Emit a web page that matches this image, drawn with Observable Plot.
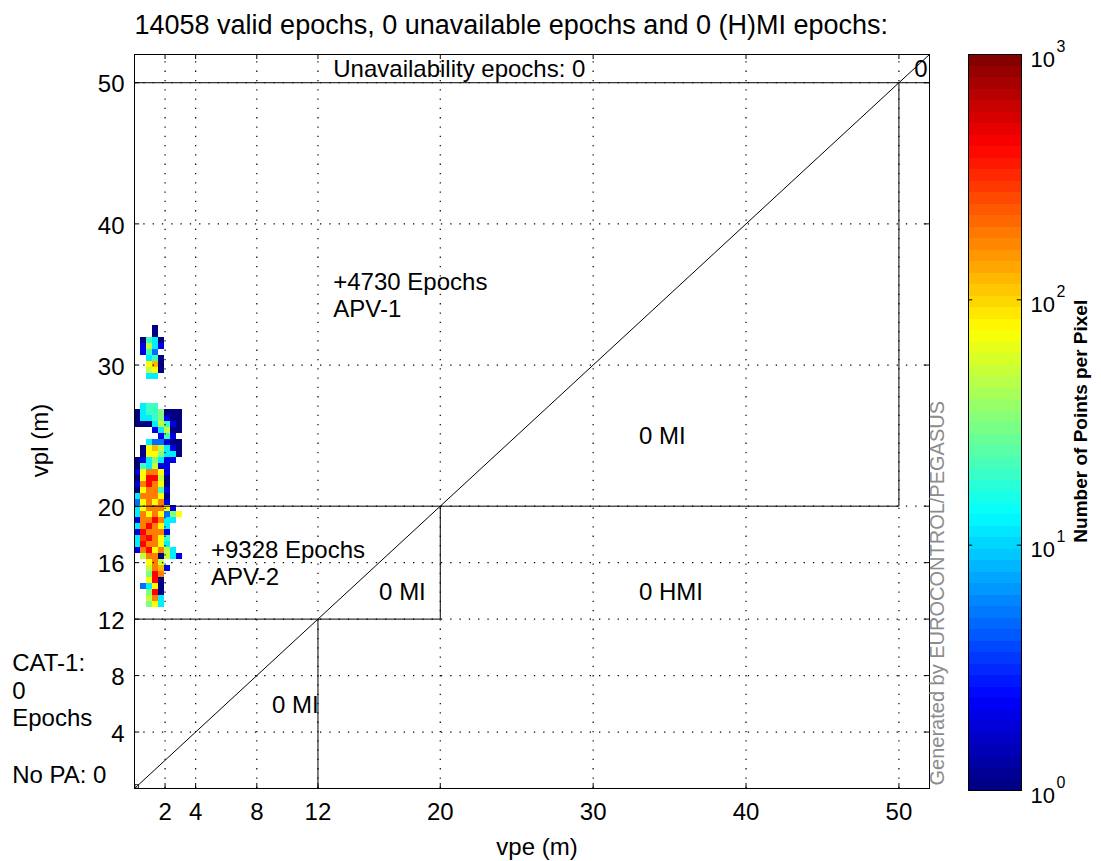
<!DOCTYPE html>
<html><head><meta charset="utf-8">
<script src="https://cdn.jsdelivr.net/npm/d3@7"></script>
<script src="https://cdn.jsdelivr.net/npm/@observablehq/plot@0.6"></script>
<style>
body{margin:0;background:#fff;}
#wrap{position:relative;width:1101px;height:861px;overflow:hidden;}
#wrap svg{position:absolute;top:0;}
</style></head><body><div id="wrap"></div>
<script>
// ---------- data ----------
const titleText = "14058 valid epochs, 0 unavailable epochs and 0 (H)MI epochs:";
const xTicks = [2, 4, 8, 12, 20, 30, 40, 50];
const yTicks = [4, 8, 12, 16, 20, 30, 40, 50];
// heat-map bin edges (m)
const vpeEdges = [0, 0.39, 0.78, 1.18, 1.57, 1.96, 2.35, 2.75, 3.14];
const vplEdges = [32.81, 32.38, 31.96, 31.53, 31.11, 30.68, 30.26, 29.83, 29.40, 28.98,
  28.55, 28.13, 27.70, 27.27, 26.85, 26.42, 26.00, 25.57, 25.15, 24.72,
  24.29, 23.87, 23.44, 23.02, 22.59, 22.16, 21.74, 21.31, 20.89, 20.46,
  20.04, 19.61, 19.18, 18.76, 18.33, 17.91, 17.48, 17.06, 16.63, 16.20,
  15.78, 15.35, 14.93, 14.50, 14.08, 13.65, 13.23, 12.80];
// points per pixel, one row per vpl bin (top to bottom), one column per vpe bin
const counts = [
  [0, 0, 0, 1, 0, 0, 0, 0],
  [0, 0, 0, 1, 0, 0, 0, 0],
  [0, 1, 20, 12, 1, 0, 0, 0],
  [0, 2, 50, 12, 2, 0, 0, 0],
  [0, 2, 20, 5, 0, 0, 0, 0],
  [0, 0, 12, 20, 1, 0, 0, 0],
  [0, 0, 75, 120, 1, 0, 0, 0],
  [0, 0, 50, 75, 1, 0, 0, 0],
  [0, 0, 12, 12, 0, 0, 0, 0],
  [0, 0, 0, 0, 0, 0, 0, 0],
  [0, 0, 0, 0, 0, 0, 0, 0],
  [0, 0, 0, 0, 0, 0, 0, 0],
  [0, 0, 0, 0, 0, 0, 0, 0],
  [0, 12, 20, 20, 0, 0, 0, 0],
  [1, 12, 20, 20, 32, 1, 1, 1],
  [1, 12, 12, 20, 32, 2, 1, 1],
  [1, 1, 1, 12, 50, 20, 2, 1],
  [0, 0, 0, 2, 12, 50, 1, 1],
  [0, 0, 0, 0, 2, 20, 2, 0],
  [0, 0, 12, 5, 5, 2, 1, 1],
  [0, 1, 75, 120, 50, 12, 2, 1],
  [0, 1, 75, 75, 32, 12, 12, 1],
  [1, 2, 12, 32, 12, 2, 2, 0],
  [1, 20, 12, 50, 2, 2, 0, 0],
  [2, 75, 180, 180, 75, 2, 0, 0],
  [1, 75, 420, 420, 50, 1, 0, 0],
  [2, 180, 420, 180, 75, 1, 0, 0],
  [1, 75, 180, 180, 20, 2, 0, 0],
  [12, 180, 180, 180, 75, 1, 0, 0],
  [5, 75, 180, 75, 180, 2, 0, 0],
  [12, 75, 180, 180, 180, 75, 2, 0],
  [12, 180, 75, 180, 75, 5, 32, 75],
  [2, 180, 180, 420, 180, 12, 12, 0],
  [12, 180, 420, 180, 75, 12, 0, 0],
  [2, 420, 180, 180, 180, 2, 0, 0],
  [12, 280, 420, 180, 75, 20, 0, 0],
  [12, 420, 180, 180, 75, 12, 0, 0],
  [2, 180, 420, 75, 180, 50, 12, 0],
  [0, 50, 180, 180, 1, 50, 12, 2],
  [0, 0, 75, 180, 50, 0, 0, 0],
  [0, 0, 50, 180, 120, 2, 0, 0],
  [0, 0, 32, 420, 180, 0, 0, 0],
  [0, 0, 75, 420, 1, 0, 0, 0],
  [0, 5, 12, 75, 1, 0, 0, 0],
  [0, 0, 32, 420, 1, 0, 0, 0],
  [0, 0, 50, 180, 12, 0, 0, 0],
  [0, 0, 32, 75, 12, 0, 0, 0]
];
// region boundaries of the Stanford plot
const segX1 = [0, 0, 50, 0, 20, 0, 12];
const segY1 = [0, 50, 20, 20, 12, 12, 0];
const segX2 = [52, 52, 50, 50, 20, 20, 12];
const segY2 = [52, 50, 50, 20, 20, 12, 12];
// annotations (left-aligned, centred vertically)
const noteText = ["Unavailability epochs: 0", "0", "+4730 Epochs\nAPV-1", "0 MI",
  "+9328 Epochs\nAPV-2", "0 MI", "0 HMI", "0 MI", "CAT-1:\n0\nEpochs", "No PA: 0"];
const noteX = [13, 51, 13, 33, 5, 16, 33, 9, -8, -8];
const noteY = [51, 51, 35, 25, 16, 14, 14, 6, 7, 1];
const colorTicks = [1, 10, 100, 1000];
const colorExp = ["0", "1", "2", "3"];

// ---------- styling ----------
const FONT = "Liberation Sans, Arial, sans-serif";
const jet = t => {
  const c = v => Math.round(255 * Math.max(0, Math.min(1, v)));
  return `rgb(${c(1.5 - Math.abs(4 * t - 3))},${c(1.5 - Math.abs(4 * t - 2))},${c(1.5 - Math.abs(4 * t - 1))})`;
};
const colorScale = {type: "log", domain: [1, 1000], interpolate: jet};

const cells = [];
counts.forEach((row, k) => row.forEach((n, c) => {
  if (n > 0) cells.push({x1: vpeEdges[c], x2: vpeEdges[c + 1], y1: vplEdges[k + 1], y2: vplEdges[k], n});
}));
const segs = segX1.map((_, i) => ({x1: segX1[i], y1: segY1[i], x2: segX2[i], y2: segY2[i]}));
const notes = noteText.map((t, i) => ({t, x: noteX[i], y: noteY[i]}));

const W = 1101, H = 861;
const main = Plot.plot({
  width: W, height: H,
  marginLeft: 134, marginRight: 172, marginTop: 54, marginBottom: 73,
  style: {fontFamily: FONT, background: "white", overflow: "visible"},
  x: {domain: [0, 52], axis: null},
  y: {domain: [0, 52], axis: null},
  color: colorScale,
  marks: [
    Plot.rect(cells, {x1: "x1", x2: "x2", y1: "y1", y2: "y2", fill: "n", shapeRendering: "crispEdges"}),
    Plot.ruleX(xTicks, {x: d => d, y1: 0, y2: 52, stroke: "#000", strokeWidth: 1.2, strokeDasharray: "1.3,8"}),
    Plot.ruleY(yTicks, {y: d => d, x1: 0, x2: 52, stroke: "#000", strokeWidth: 1.2, strokeDasharray: "1.3,8"}),
    Plot.link(segs, {x1: "x1", y1: "y1", x2: "x2", y2: "y2", stroke: "#000", strokeWidth: 1}),
    // inward tick marks
    Plot.ruleX(xTicks, {x: d => d, y1: 0, y2: 0.36, stroke: "#000"}),
    Plot.ruleX(xTicks, {x: d => d, y1: 52, y2: 51.64, stroke: "#000"}),
    Plot.ruleY(yTicks, {y: d => d, x1: 0, x2: 0.34, stroke: "#000"}),
    Plot.ruleY(yTicks, {y: d => d, x1: 52, x2: 51.66, stroke: "#000"}),
    Plot.dot([0], {x: 0.15, y: 0.15, symbol: "square", r: 2, stroke: "#000", strokeWidth: 0.8}),
    Plot.frame({stroke: "#000", strokeWidth: 1}),
    // tick labels
    Plot.text(xTicks, {x: d => d, text: d => String(d), frameAnchor: "bottom", lineAnchor: "middle", dy: 24, fontSize: 24, fill: "#000"}),
    Plot.text(yTicks, {y: d => d, text: d => String(d), frameAnchor: "left", lineAnchor: "middle", dx: -10, dy: 2, textAnchor: "end", fontSize: 24, fill: "#000"}),
    // annotations
    Plot.text(notes, {x: "x", y: "y", text: "t", textAnchor: "start", lineAnchor: "middle", fontSize: 24, lineHeight: 1.15, fill: "#000"}),
    // title and axis labels
    Plot.text([titleText], {x: 0, frameAnchor: "top", lineAnchor: "middle", dy: -29, textAnchor: "start", fontSize: 27, fill: "#000"}),
    Plot.text(["vpe (m)"], {frameAnchor: "bottom", lineAnchor: "middle", textAnchor: "middle", dx: 5, dy: 59, fontSize: 24, fill: "#000"}),
    Plot.text(["vpl (m)"], {frameAnchor: "left", lineAnchor: "middle", textAnchor: "middle", dx: -94, dy: 19, rotate: -90, fontSize: 24, fill: "#000"}),
    Plot.text(["Generated by EUROCONTROL/PEGASUS"], {frameAnchor: "bottom-right", dx: 14, dy: -3, rotate: -90, textAnchor: "start", fontSize: 20, fill: "#8c8c8c"})
  ]
});

const bands = d3.range(64).map(i => ({lo: 10 ** (3 * i / 64), hi: 10 ** (3 * (i + 1) / 64)}));
const cbW = 163;
const cbar = Plot.plot({
  width: cbW, height: H,
  marginLeft: 30, marginRight: cbW - 30 - 53, marginTop: 54, marginBottom: H - 790,
  style: {fontFamily: FONT, background: "transparent", overflow: "visible"},
  x: {domain: [0, 1], axis: null},
  y: {type: "log", domain: [1, 1000], axis: null},
  color: colorScale,
  marks: [
    Plot.rect(bands, {x1: 0, x2: 1, y1: "lo", y2: "hi", fill: d => Math.sqrt(d.lo * d.hi), shapeRendering: "crispEdges"}),
    Plot.ruleY(colorTicks, {y: d => d, x1: 0, x2: 0.08, stroke: "#000"}),
    Plot.ruleY(colorTicks, {y: d => d, x1: 1, x2: 0.92, stroke: "#000"}),
    Plot.frame({stroke: "#000"}),
    Plot.text(colorTicks, {y: d => d, x: 1, text: () => "10", dx: 9, dy: 5, textAnchor: "start", lineAnchor: "middle", fontSize: 22, fill: "#000"}),
    Plot.text(colorTicks, {y: d => d, x: 1, text: (d, i) => colorExp[i], dx: 35, dy: -8, textAnchor: "start", lineAnchor: "middle", fontSize: 16, fill: "#000"}),
    Plot.text(["Number of Points per Pixel"], {x: 1, y: 32, dx: 59, rotate: -90, textAnchor: "middle", lineAnchor: "middle", fontSize: 19, fontWeight: "bold", fill: "#000"})
  ]
});
cbar.style.left = (W - cbW) + "px";
main.style.left = "0px";
const wrap = document.getElementById("wrap");
wrap.appendChild(main);
wrap.appendChild(cbar);
</script>
</body></html>
